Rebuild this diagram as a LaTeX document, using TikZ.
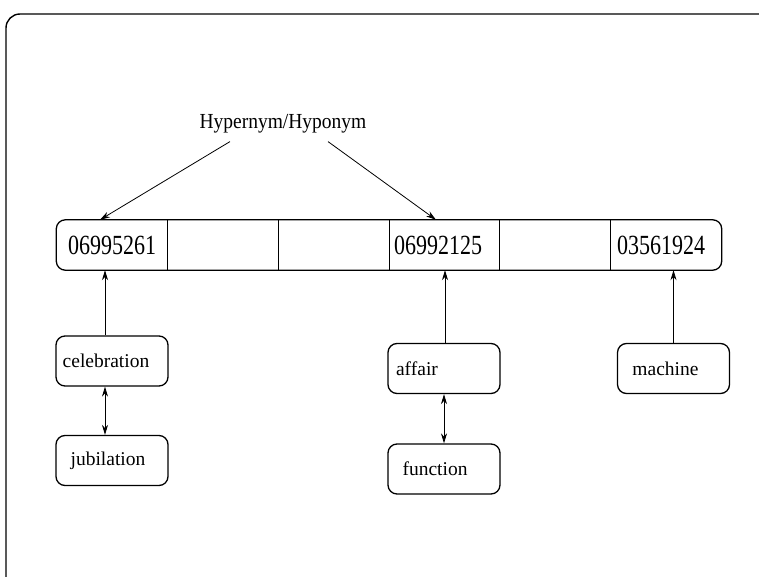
\documentclass[tikz,border=0pt]{standalone}
\usepackage{fontspec}
\setmainfont{Liberation Serif}
\usetikzlibrary{arrows.meta}
\tikzset{
  cell/.style={rectangle, inner sep=0pt, minimum width=111pt, minimum height=50pt,
    font=\fontsize{22}{24}\selectfont},
  wbox/.style={draw, line width=1.3pt, rounded corners=9pt, inner sep=0pt,
    minimum width=112pt, minimum height=50pt, font=\fontsize{19.5}{22}\selectfont},
  arr/.style={line width=0.8pt, -{Stealth[length=10pt,width=6pt]}},
  darr/.style={line width=0.8pt, {Stealth[length=10pt,width=6pt]}-{Stealth[length=10pt,width=6pt]}},
  frame/.style={line width=1.4pt, rounded corners=14pt},
  barline/.style={line width=1.3pt}
}
\newcommand{\dig}[1]{\scalebox{1}[1.26]{#1}}
\begin{document}
\begin{tikzpicture}[x=1pt,y=-1pt]
\useasboundingbox (0,0) rectangle (759,577);
% outer frame (partial)
\draw[frame] (6,577) -- (6,14) -- (759,14);
% title
\node[inner sep=0pt, font=\fontsize{19.5}{22}\selectfont] (hyp) at (283,124) {\scalebox{1}[1.1]{Hypernym/Hyponym}};
% bar cells
\node[cell] (c1) at (112,245) {\dig{06995261}};
\node[cell] (c2) at (223,245) {};
\node[cell] (c3) at (333.5,245) {};
\node[cell] (c4) at (444,245) {\dig{06992125}\hspace*{12pt}};
\node[cell] (c5) at (554.5,245) {};
\node[cell] (c6) at (666,245) {\dig{03561924}\hspace*{10pt}};
\draw[barline, rounded corners=9pt] (c1.north west) rectangle (c6.south east);
\foreach \i in {1,2,3,4,5}{\draw[barline] (c\i.north east) -- (c\i.south east);}
% word boxes
\node[wbox] (cel) at (112,361) {celebration\hspace*{12pt}};
\node[wbox] (jub) at (112,460.5) {jubilation\hspace*{8pt}};
\node[wbox] (aff) at (444,368.5) {affair\hspace*{54pt}};
\node[wbox] (fun) at (444,469) {function\hspace*{18pt}};
\node[wbox] (mac) at (673.5,368.5) {machine\hspace*{16pt}};
% hypernym arrows
\draw[arr] ([xshift=-53pt,yshift=-8pt]hyp.south) -- ([xshift=-12pt]c1.north);
\draw[arr] ([xshift=45pt,yshift=-8pt]hyp.south) -- ([xshift=-8pt]c4.north);
% synset arrows
\draw[arr] ([xshift=-7pt]cel.north) -- ([xshift=-7pt]cel.north |- c1.south);
\draw[arr] ([xshift=1pt]aff.north) -- ([xshift=1pt]aff.north |- c4.south);
\draw[arr] (mac.north) -- (mac.north |- c6.south);
% synonym arrows
\draw[darr] ([xshift=-7pt]cel.south) -- ([xshift=-7pt]jub.north);
\draw[darr] (aff.south) -- (fun.north);
\end{tikzpicture}
\end{document}
